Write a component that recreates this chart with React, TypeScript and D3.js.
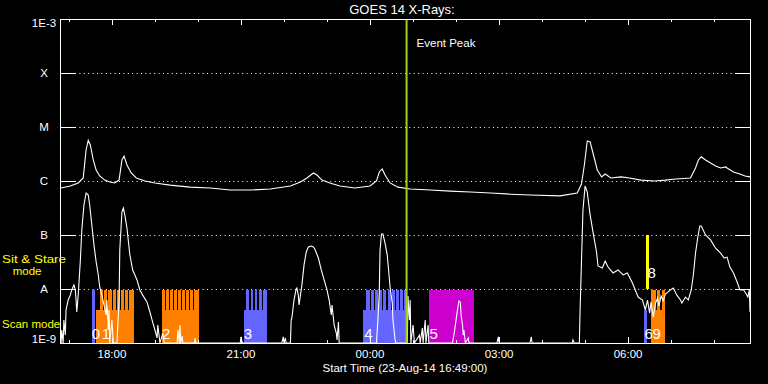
import React, { useEffect } from "react";
import * as d3 from "d3";

// ---------- data ----------
const START = new Date(2014, 7, 23, 16, 49, 0);
const SPAN_MINUTES = 961;
const EVENT_PEAK_MIN = 482;

const yTickValues = [1e-9, 1e-8, 1e-7, 1e-6, 1e-5, 1e-4, 1e-3];
const yTickLabels = ["1E-9", "A", "B", "C", "M", "X", "1E-3"];
const gridLevels = [1e-8, 1e-7, 1e-6, 1e-5, 1e-4];

// [minutes after start, flux W/m^2]
const longChannel: [number, number][] = [
  [0, 7.4e-7], [13, 8.1e-7], [24, 9.2e-7], [31, 1.14e-6], [35, 3.75e-6], [38, 5.7e-6], [41, 4.6e-6],
  [45, 2.45e-6], [49, 1.6e-6], [54, 1.24e-6], [61, 1.04e-6], [68, 9.6e-7], [75, 9.2e-7], [81, 1.04e-6],
  [85, 2.45e-6], [88, 2.9e-6], [92, 1.98e-6], [98, 1.41e-6], [105, 1.14e-6], [117, 1.0e-6], [131, 9.2e-7],
  [152, 8.4e-7], [180, 7.7e-7], [208, 7.4e-7], [236, 6.8e-7], [264, 6.8e-7], [292, 7.1e-7], [320, 8.1e-7],
  [334, 9.6e-7], [343, 1.14e-6], [352, 1.41e-6], [357, 1.29e-6], [364, 1.04e-6], [375, 9.2e-7], [389, 8.1e-7],
  [410, 7.4e-7], [431, 8.1e-7], [440, 1.0e-6], [444, 1.47e-6], [448, 1.67e-6], [452, 1.29e-6], [459, 9.2e-7],
  [470, 7.7e-7], [487, 7.1e-7], [515, 6.8e-7], [543, 6.5e-7], [571, 6.25e-7], [599, 6.0e-7], [627, 5.7e-7],
  [654, 5.5e-7], [696, 5.3e-7], [720, 6.0e-7], [726, 8.8e-7], [730, 2.0e-6], [734, 5.5e-6], [738, 5.3e-6],
  [742, 3.3e-6], [748, 1.6e-6], [754, 1.19e-6], [759, 1.35e-6], [767, 1.14e-6], [781, 1.19e-6], [793, 1.14e-6],
  [809, 1.04e-6], [828, 1.0e-6], [843, 1.04e-6], [857, 1.09e-6], [878, 1.14e-6], [885, 1.74e-6], [889, 2.45e-6],
  [893, 2.8e-6], [899, 2.45e-6], [906, 2.15e-6], [913, 1.9e-6], [920, 1.74e-6], [927, 1.82e-6], [929, 1.74e-6],
  [938, 1.47e-6], [947, 1.35e-6], [954, 1.24e-6], [961, 1.19e-6],
];

const shortChannel: [number, number][] = [
  [0, 9e-10], [1, 1.74e-9], [3, 1e-9], [4, 2.67e-9], [6, 1.4e-9], [7, 4.1e-9], [10, 6.25e-9], [13, 7.7e-9],
  [15, 9.6e-9], [18, 1.19e-8], [20, 9.6e-9], [21, 6.25e-9], [22, 3.75e-9], [24, 7.7e-9], [27, 3.4e-8],
  [29, 1.24e-7], [32, 3.6e-7], [35, 6.0e-7], [38, 5.5e-7], [40, 3.6e-7], [43, 1.53e-7], [46, 6.5e-8],
  [49, 3.2e-8], [52, 1.82e-8], [54, 1.09e-8], [57, 7.7e-9], [60, 5.05e-9], [63, 3.3e-9], [64, 6.25e-9],
  [66, 1.74e-9], [67, 4.1e-9], [68, 1e-9], [71, 2.67e-9], [73, 1e-9], [78, 1e-9], [81, 6.25e-9], [82, 5.3e-8],
  [85, 2.67e-7], [87, 3.16e-7], [89, 2.35e-7], [92, 1.35e-7], [96, 4.3e-8], [100, 2.25e-8], [106, 1.47e-8],
  [110, 9.6e-9], [114, 7.7e-9], [120, 5.7e-9], [124, 3.75e-9], [127, 2.67e-9], [131, 1.74e-9], [134, 1.24e-9],
  [135, 2.15e-9], [138, 1e-9], [142, 1.53e-9], [144, 1e-9], [162, 1e-9], [163, 1.74e-9], [165, 1e-9],
  [166, 2.15e-9], [167, 1e-9], [169, 1.35e-9], [170, 1e-9], [186, 1e-9], [187, 1.24e-9], [188, 1e-9],
  [250, 1e-9], [251, 1.3e-9], [253, 1e-9], [308, 1e-9], [310, 1.3e-9], [311, 1e-9], [313, 1.24e-9], [314, 1e-9],
  [320, 1e-9], [321, 2.67e-9], [322, 2.9e-9], [325, 6.25e-9], [328, 1e-8], [329, 1.04e-8], [331, 7.7e-9],
  [332, 5.05e-9], [333, 6.25e-9], [336, 1.19e-8], [339, 2.8e-8], [342, 4.8e-8], [345, 6.0e-8], [349, 6.25e-8],
  [352, 6.0e-8], [354, 5.5e-8], [359, 3.75e-8], [363, 2.25e-8], [367, 1.47e-8], [371, 9.6e-9], [374, 6.25e-9],
  [377, 3.3e-9], [378, 5.05e-9], [381, 2.15e-9], [384, 1.53e-9], [385, 1.14e-9], [387, 2.45e-9], [388, 1e-9],
  [440, 1e-9], [442, 2.67e-9], [444, 9.6e-9], [445, 5.3e-8], [447, 1.04e-7], [449, 1.04e-7], [452, 7.1e-8],
  [455, 4.3e-8], [459, 1.09e-8], [462, 5.5e-9], [463, 2.67e-9], [466, 1.14e-9], [467, 1e-9], [483, 1e-9],
  [484, 7.4e-9], [486, 2.67e-9], [487, 6.25e-9], [488, 1e-9], [491, 2.15e-9], [493, 1e-9], [500, 1.4e-9],
  [501, 1e-9], [504, 1.9e-9], [505, 1e-9], [508, 2.67e-9], [509, 1e-9], [512, 2.15e-9], [513, 1e-9],
  [546, 1e-9], [548, 1.4e-9], [550, 2.15e-9], [553, 4.1e-9], [555, 6.0e-9], [557, 5.7e-9], [558, 3.3e-9],
  [560, 2.15e-9], [561, 1.4e-9], [562, 1.74e-9], [564, 1e-9], [568, 1.24e-9], [569, 1e-9], [608, 1e-9],
  [610, 1.3e-9], [611, 1e-9], [654, 1e-9], [656, 1.3e-9], [657, 1e-9], [713, 1e-9], [714, 1.14e-9], [716, 1e-9],
  [723, 1e-9], [724, 4.1e-9], [726, 3.4e-8], [728, 2.9e-7], [731, 8.1e-7], [734, 6.25e-7], [738, 2.35e-7],
  [742, 1.14e-7], [747, 4.8e-8], [749, 2.67e-8], [755, 2.45e-8], [759, 3.3e-8], [763, 2.55e-8], [770, 1.98e-8],
  [777, 2.25e-8], [784, 1.82e-8], [790, 1.98e-8], [797, 1.29e-8], [801, 9.6e-9], [805, 7.1e-9], [811, 6.25e-9],
  [815, 4.1e-9], [818, 6.25e-9], [821, 3.6e-9], [823, 5.7e-9], [826, 3.0e-9], [829, 5.3e-9], [832, 6.8e-9],
  [834, 4.85e-9], [837, 7.4e-9], [840, 6.0e-9], [843, 8.1e-9], [845, 8.4e-9], [850, 9.6e-9], [854, 1.04e-8],
  [859, 7.7e-9], [864, 6.25e-9], [866, 5.5e-9], [871, 7.1e-9], [875, 6.25e-9], [879, 9.6e-9], [882, 1.82e-8],
  [885, 4.6e-8], [888, 8.8e-8], [891, 1.47e-7], [893, 1.47e-7], [899, 1.0e-7], [906, 8.1e-8], [913, 5.7e-8],
  [920, 4.6e-8], [925, 3.75e-8], [929, 3.9e-8], [933, 2.55e-8], [938, 1.98e-8], [943, 1.35e-8], [947, 9.6e-9],
  [952, 9.6e-9], [954, 8.8e-9], [958, 7.1e-9], [960, 9.6e-9], [961, 3.75e-9],
];

// observation blocks
const SCAN_LEVEL = 4.1e-9;
const STARE_LEVEL = 1e-8;
const obsLabels = ["0", "1", "2", "3", "4", "5", "6", "9"];
const obsKinds = ["blue", "orange", "orange", "blue", "blue", "magenta", "blue", "orange"];
const obsLabelTimes = [43, 57, 141, 255, 423, 514, 814, 825];
const obsBase: [number, number][] = [
  [43.3, 47.4], [48.8, 101.9], [140.9, 192.6], [255.3, 287.4], [421.4, 481.4], [513.6, 576], [813.5, 817.7], [823.3, 842.8],
];
const obsRasters: [number, number][][] = [
  [[43.3, 47.4]],
  [[54.4, 58.9], [60.3, 64.7], [66.1, 70.6], [72, 76.5], [77.9, 82.3], [83.7, 88.2], [89.6, 94], [95.4, 101.9]],
  [[140.9, 145.1], [146.8, 150.7], [152.4, 156.3], [157.9, 161.9], [163.5, 167.4], [169.1, 173], [174.7, 178.6], [180.3, 184.2], [185.9, 192.6]],
  [[258.1, 261.6], [264.4, 267.9], [270.7, 273.9], [276.3, 279.8], [281.9, 286.7]],
  [[425.6, 430.7], [432.1, 436.7], [438.4, 442.3], [444, 448.2], [449.7, 453.9], [455.7, 459.9], [461.4, 465.6], [467.4, 471.3], [473, 477.2], [478.6, 481.4]],
  [[513.6, 576]],
  [],
  [[823.3, 829.3], [831.2, 834.9], [837.7, 842.8]],
];
const markerSpan: [number, number] = [816.3, 820];
const markerLevels: [number, number] = [1e-8, 1e-7];
const markerLabel = "8";
const markerLabelTime = 818;

const kindColor: Record<string, string> = { blue: "#6464ff", orange: "#ff8000", magenta: "#cc00cc" };

// ---------- component ----------
const W = 768, H = 384;
const L = 61, R = 750, T = 19, B = 343;
const FONT = "'Liberation Sans', Arial, sans-serif";

export default function App() {
  useEffect(() => { document.body.style.margin = "0"; }, []);

  const toDate = (m: number) => new Date(START.getTime() + m * 60000);
  const end = toDate(SPAN_MINUTES);
  const x = d3.scaleTime().domain([START, end]).range([L, R]);
  const xm = (m: number) => x(toDate(m));
  const y = d3.scaleLog().domain([1e-9, 1e-3]).range([B, T]);

  const line = d3.line<[number, number]>().x(d => xm(d[0])).y(d => y(d[1]));
  const hours = d3.timeHour.range(d3.timeHour.ceil(START), end);
  const fmt = d3.timeFormat("%H:%M");

  return (
    <svg width={W} height={H} style={{ position: "absolute", left: 0, top: 0, display: "block", background: "#000" }}>
      <rect x={0} y={0} width={W} height={H} fill="#000" />
      <defs>
        <clipPath id="plot"><rect x={L} y={T} width={R - L} height={B - T} /></clipPath>
      </defs>

      {/* observation blocks */}
      <g shapeRendering="crispEdges">
        {obsBase.map((b, i) => (
          <rect key={"b" + i} x={xm(b[0])} y={y(SCAN_LEVEL)} width={xm(b[1]) - xm(b[0])} height={y(1e-9) - y(SCAN_LEVEL)} fill={kindColor[obsKinds[i]]} />
        ))}
        {obsRasters.map((list, i) => list.map((r, j) => (
          <rect key={"r" + i + "-" + j} x={xm(r[0])} y={y(STARE_LEVEL) + 1} width={xm(r[1]) - xm(r[0])} height={y(1e-9) - y(STARE_LEVEL) - 1} fill={kindColor[obsKinds[i]]} />
        )))}
        <rect x={xm(markerSpan[0])} y={y(markerLevels[1])} width={xm(markerSpan[1]) - xm(markerSpan[0])} height={y(markerLevels[0]) - y(markerLevels[1])} fill="#ffff00" />
      </g>

      {/* grid */}
      {gridLevels.map(v => (
        <line key={v} x1={L + 14} x2={R - 14} y1={Math.round(y(v)) + 0.5} y2={Math.round(y(v)) + 0.5} stroke="#fff" strokeWidth={1} strokeDasharray="1,3.4" />
      ))}

      {/* curves */}
      <g clipPath="url(#plot)" fill="none" stroke="#fff" strokeWidth={1.1}>
        <path d={line(longChannel) || ""} />
        <path d={line(shortChannel) || ""} />
      </g>

      {/* observation labels */}
      {obsLabels.map((lab, i) => (
        <text key={"l" + i} x={xm(obsLabelTimes[i])} y={339} fill="#fff" fontFamily={FONT} fontSize={15}>{lab}</text>
      ))}
      <text x={xm(markerLabelTime)} y={278} fill="#fff" fontFamily={FONT} fontSize={15}>{markerLabel}</text>

      {/* event peak */}
      <line x1={xm(EVENT_PEAK_MIN)} x2={xm(EVENT_PEAK_MIN)} y1={T} y2={B} stroke="#a0d010" strokeWidth={2} />
      <text x={xm(EVENT_PEAK_MIN) + 10} y={46.5} fill="#fff" fontFamily={FONT} fontSize={11.5}>Event Peak</text>

      {/* frame */}
      <rect x={L - 0.5} y={T + 0.5} width={R - L + 1} height={B - T} fill="none" stroke="#fff" strokeWidth={1} shapeRendering="crispEdges" />

      {/* y ticks */}
      {yTickValues.map((v, i) => {
        const yy = Math.round(y(v)) + 0.5;
        const dy = i === yTickValues.length - 1 ? 7.7 : i === 0 ? 0 : 4;
        return (
          <g key={"y" + i}>
            {i > 0 && i < yTickValues.length - 1 && (
              <>
                <line x1={L} x2={L + 14} y1={yy} y2={yy} stroke="#fff" />
                <line x1={R - 14} x2={R} y1={yy} y2={yy} stroke="#fff" />
              </>
            )}
            <text x={44} y={y(v) + dy} fill="#fff" fontFamily={FONT} fontSize={11.5} textAnchor="middle">{yTickLabels[i]}</text>
          </g>
        );
      })}

      {/* x ticks */}
      {hours.map((h, i) => {
        const xx = Math.round(x(h)) + 0.5;
        const major = h.getHours() % 3 === 0;
        const len = major ? 6 : 3;
        return (
          <g key={"x" + i}>
            <line x1={xx} x2={xx} y1={T} y2={T + len} stroke="#fff" />
            <line x1={xx} x2={xx} y1={B} y2={B - len} stroke="#fff" />
            {major && <text x={x(h)} y={358} fill="#fff" fontFamily={FONT} fontSize={11.5} textAnchor="middle">{fmt(h)}</text>}
          </g>
        );
      })}

      {/* titles */}
      <text x={402} y={14} fill="#fff" fontFamily={FONT} fontSize={13} textAnchor="middle">GOES 14 X-Rays:</text>
      <text x={405} y={372} fill="#fff" fontFamily={FONT} fontSize={11.5} textAnchor="middle">Start Time (23-Aug-14 16:49:00)</text>

      {/* mode legend */}
      <text x={2} y={263} fill="#ffff00" fontFamily={FONT} fontSize={11.5} textLength={64} lengthAdjust="spacingAndGlyphs">Sit &amp; Stare</text>
      <text x={12.7} y={275} fill="#ffff00" fontFamily={FONT} fontSize={11.5}>mode</text>
      <text x={2} y={328} fill="#ffff00" fontFamily={FONT} fontSize={11.5}>Scan mode</text>
    </svg>
  );
}
